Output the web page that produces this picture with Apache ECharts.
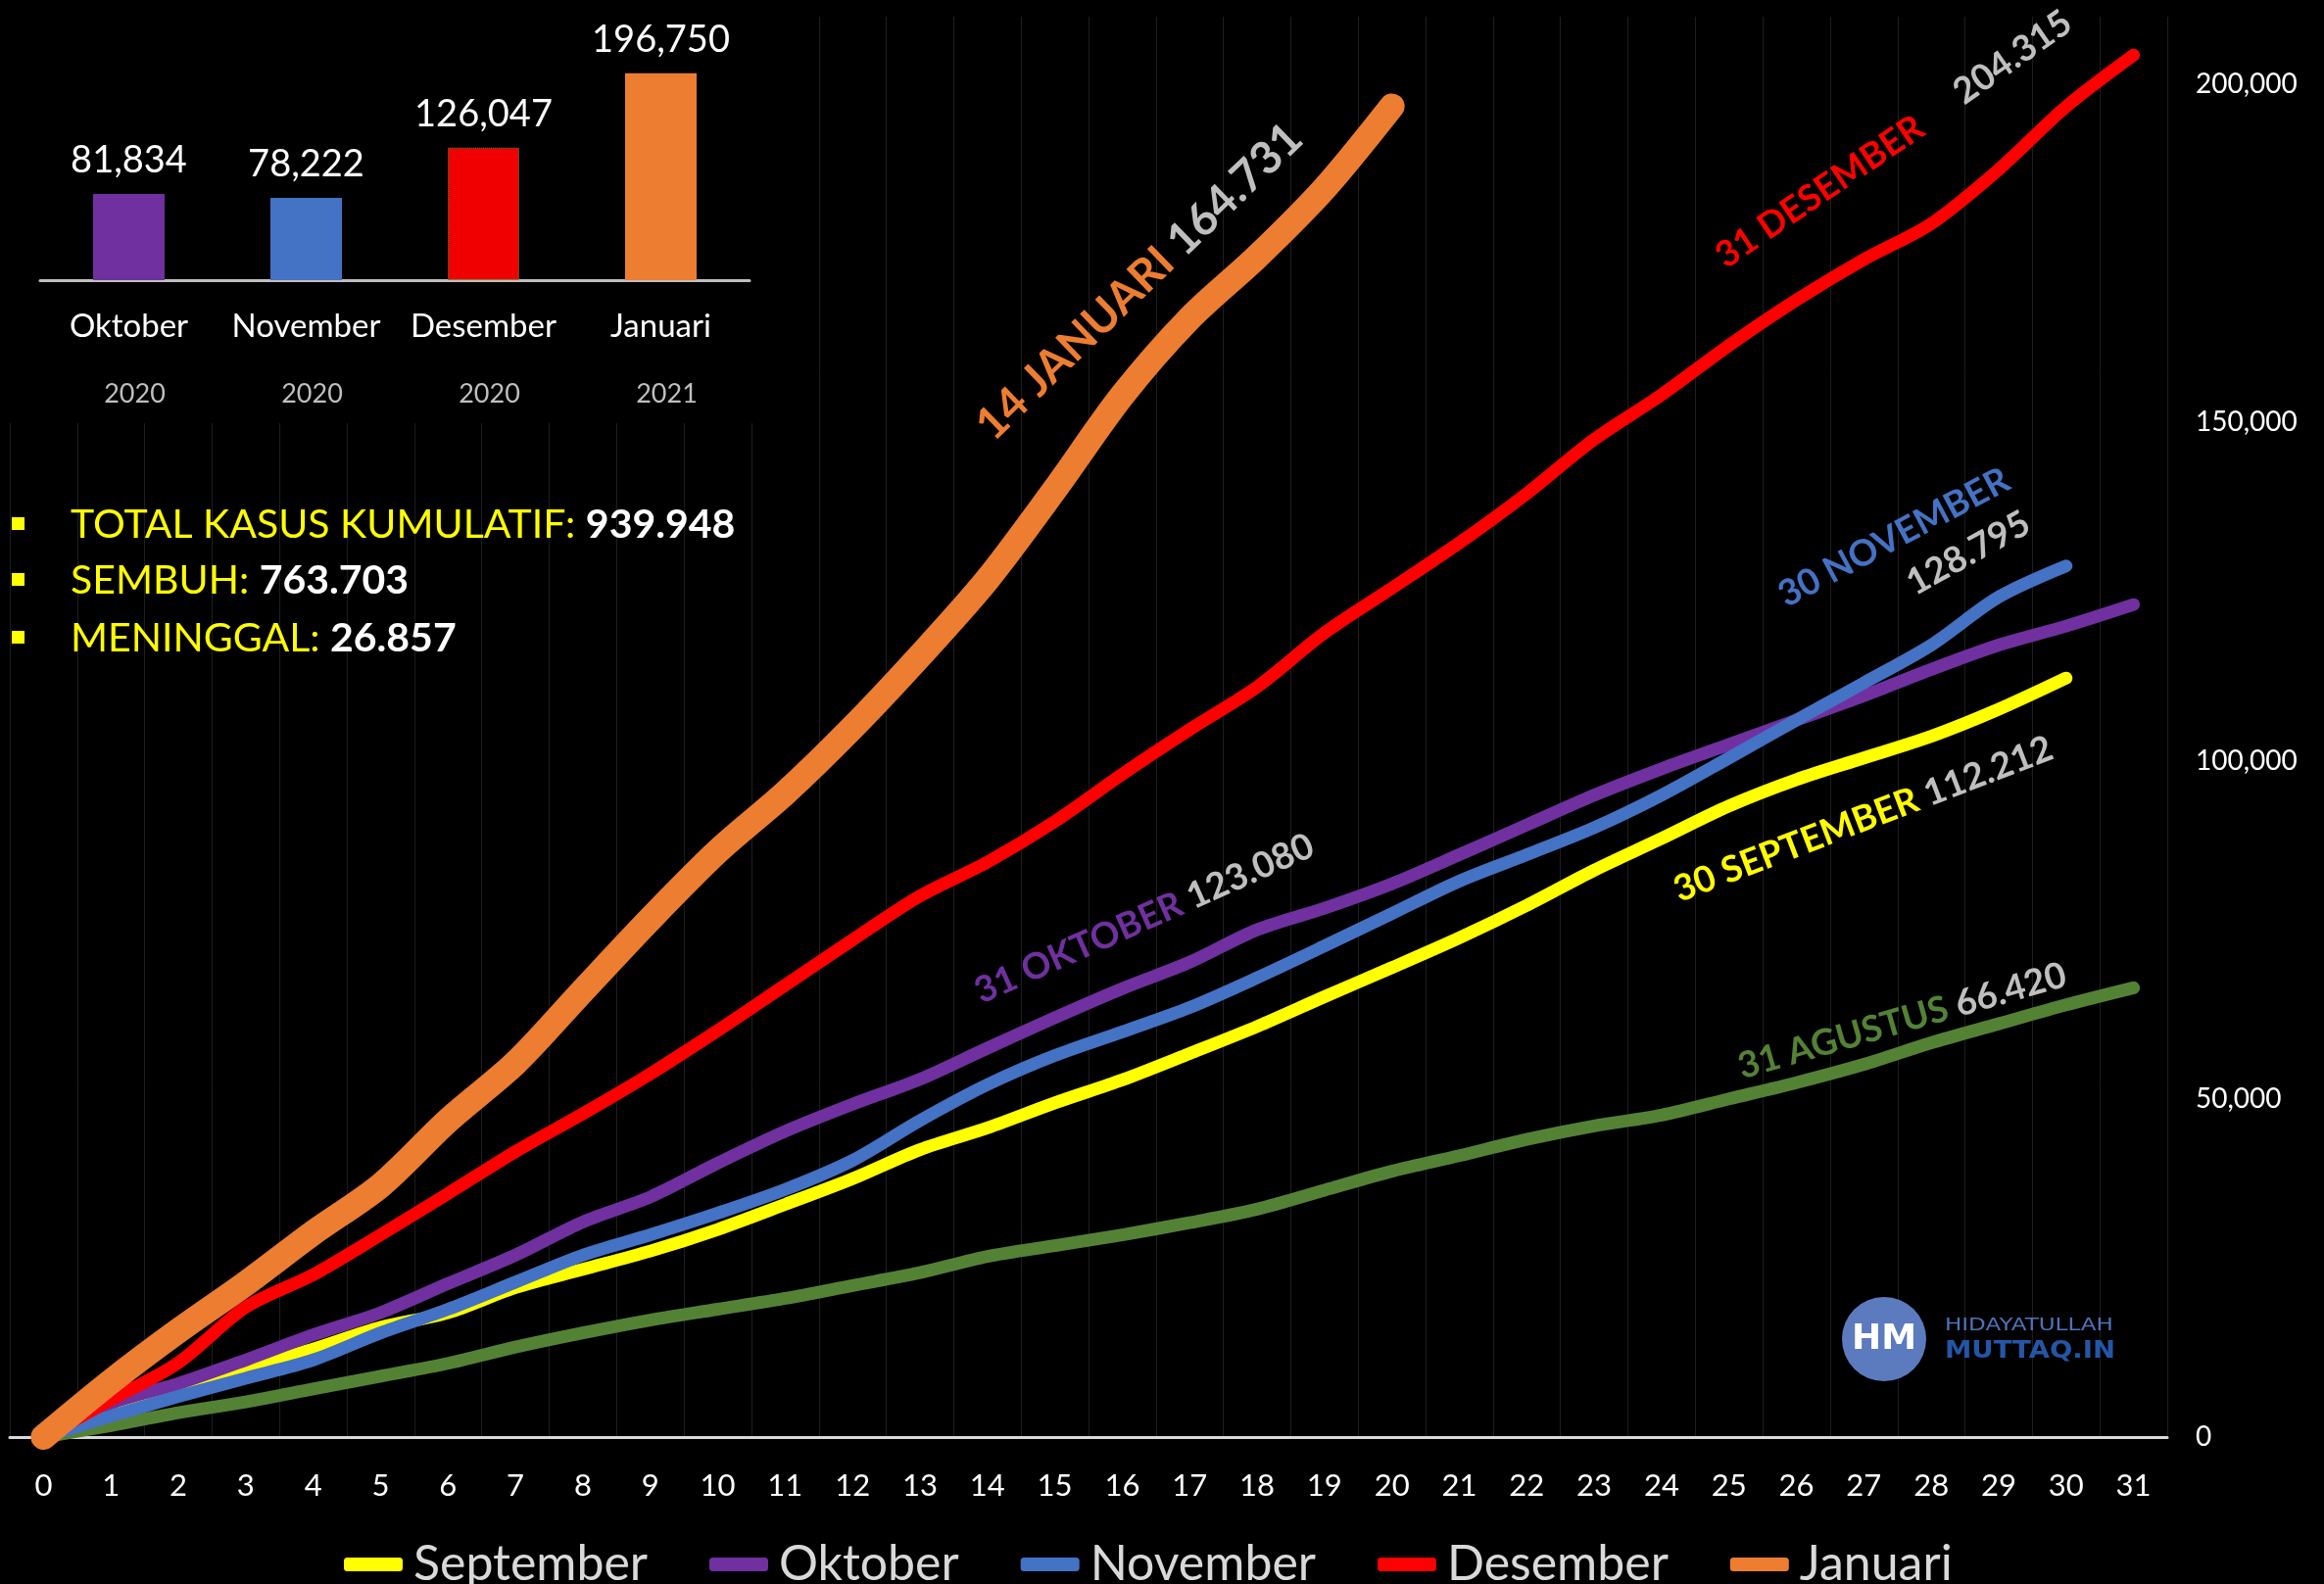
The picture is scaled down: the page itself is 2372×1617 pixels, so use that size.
<!DOCTYPE html>
<html>
<head>
<meta charset="utf-8">
<title>Kasus Kumulatif COVID-19 Indonesia</title>
<script src="https://cdn.jsdelivr.net/npm/echarts@6/dist/echarts.min.js"></script>
<style>
  html, body { margin: 0; padding: 0; background: #000; }
  #chart { width: 2372px; height: 1617px; }
</style>
</head>
<body>
<div id="chart"></div>
<script>
// day of month on the x axis
const days = ['0', '1', '2', '3', '4', '5', '6', '7', '8', '9', '10', '11', '12', '13', '14', '15',
    '16', '17', '18', '19', '20', '21', '22', '23', '24', '25', '26', '27', '28', '29', '30', '31'];

// cumulative cases per month
const agustus = [0, 1700, 3600, 5200, 7100, 9000, 10900, 13300, 15400, 17300, 18900, 20500, 22400, 24300,
    26700, 28300, 29900, 31700, 33700, 36500, 39300, 41600, 44000, 46000, 47600, 50000, 52400, 55100,
    58300, 61100, 63900, 66420];
const september = [0, 3800, 7100, 10100, 13000, 16200, 18400, 22100, 24800, 27500, 30700, 34400, 38200,
    42500, 45700, 49400, 52800, 56700, 60700, 65100, 69400, 73800, 78600, 83800, 88500, 93300, 97200,
    100400, 103600, 107600, 112212];
const oktober = [0, 5000, 7900, 11400, 15100, 18400, 22700, 26900, 31800, 35500, 40500, 45200, 49200,
    52900, 57500, 62000, 66300, 70200, 75000, 78200, 81800, 86100, 90500, 94900, 98800, 102400, 106000,
    109600, 113500, 117100, 119900, 123080];
const november = [0, 3100, 6000, 8700, 11400, 15400, 18900, 22900, 26900, 29900, 33100, 36600, 40900,
    46800, 52100, 56400, 59900, 63500, 67900, 72600, 77400, 82200, 86100, 90100, 94900, 100400, 106000,
    111500, 117100, 124200, 128795];
const desember = [0, 5500, 11000, 19200, 24000, 29900, 36000, 42200, 47800, 53700, 60100, 66800, 73500,
    80000, 85000, 91000, 98000, 104600, 110900, 118900, 125500, 132200, 139500, 147500, 154100, 161400,
    168100, 174100, 179400, 187400, 196700, 204315];
const januari = [0, 8200, 15700, 22700, 30200, 37200, 46800, 55300, 66000, 76600, 86600, 95200, 104900,
    115500, 126800, 140100, 154000, 165400, 174500, 184600, 196750];

// monthly totals for the small bar chart
const barMonths = ['Oktober', 'November', 'Desember', 'Januari'];
const barYears = ['2020', '2020', '2020', '2021'];
const barValues = [81834, 78222, 126047, 196750];
const barColors = ['#7030a0', '#4472c4', '#f00000', '#ed7d31'];

const legendNames = ['September', 'Oktober', 'November', 'Desember', 'Januari'];

const FONT = 'Lato';

function fmt(v) {
    return Number(v).toLocaleString('en-US');
}

function lineSeries(name, data, color, width) {
    return {
        name: name,
        type: 'line',
        data: data,
        smooth: 0.3,
        symbol: 'none',
        xAxisIndex: 0,
        yAxisIndex: 0,
        lineStyle: { color: color, width: width, cap: 'round', join: 'round' },
        itemStyle: { color: color }
    };
}

// rotated notes next to the line ends
const notes = [
    { x: 1004, y: 441, angle: 44, size: 46, label: '14 JANUARI', color: '#ed7d31', value: '164.731' },
    { x: 1755, y: 265, angle: 34, size: 37, label: '31 DESEMBER', color: '#ff0000' },
    { x: 1998, y: 98, angle: 35, size: 37, value: '204.315' },
    { x: 1818, y: 610, angle: 28, size: 37, label: '30 NOVEMBER', color: '#4472c4' },
    { x: 1949, y: 598, angle: 29, size: 37, value: '128.795' },
    { x: 997, y: 1014, angle: 24, size: 37, label: '31 OKTOBER', color: '#7030a0', value: '123.080' },
    { x: 1710, y: 910, angle: 21, size: 37, label: '30 SEPTEMBER', color: '#ffff00', value: '112.212' },
    { x: 1775, y: 1090, angle: 16, size: 37, label: '31 AGUSTUS', color: '#548235', value: '66.420' }
];

function noteElement(n) {
    const parts = [];
    if (n.label) parts.push('{c|' + n.label + '}');
    if (n.value) parts.push('{v|' + n.value + '}');
    const base = { fontSize: n.size, fontWeight: 'bold', fontFamily: FONT };
    return {
        type: 'text',
        x: n.x,
        y: n.y,
        rotation: n.angle * Math.PI / 180,
        z: 20,
        style: {
            text: parts.join(' '),
            font: 'bold ' + n.size + 'px ' + FONT,
            align: 'left', textAlign: 'left',
            verticalAlign: 'middle', textVerticalAlign: 'middle',
            rich: {
                c: Object.assign({ fill: n.color }, base),
                v: Object.assign({ fill: '#bfbfbf' }, base)
            }
        }
    };
}

// summary lines at the left
const stats = [
    { y: 536, label: 'TOTAL KASUS KUMULATIF: ', value: '939.948' },
    { y: 593, label: 'SEMBUH: ', value: '763.703' },
    { y: 652, label: 'MENINGGAL: ', value: '26.857' }
];

function statElements() {
    const els = [];
    stats.forEach(function (s) {
        els.push({
            type: 'rect', z: 20,
            shape: { x: 12, y: s.y - 8, width: 13, height: 13 },
            style: { fill: '#ffff00' }
        });
        els.push({
            type: 'text', x: 72, y: s.y, z: 20,
            style: {
                text: '{y|' + s.label + '}{w|' + s.value + '}',
                font: '41px ' + FONT,
                align: 'left', textAlign: 'left',
                verticalAlign: 'middle', textVerticalAlign: 'middle',
                rich: {
                    y: { fill: '#ffff00', fontSize: 41, fontFamily: FONT },
                    w: { fill: '#ffffff', fontSize: 41, fontFamily: FONT, fontWeight: 'bold' }
                }
            }
        });
    });
    return els;
}

function logoElements() {
    return [
        { type: 'circle', z: 20, shape: { cx: 1923, cy: 1367, r: 43 }, style: { fill: '#5b7bbe' } },
        {
            type: 'text', x: 1923, y: 1368, z: 21,
            style: {
                text: 'HM', fill: '#ffffff', font: 'bold 36px "DejaVu Sans"',
                align: 'center', textAlign: 'center', verticalAlign: 'middle', textVerticalAlign: 'middle'
            }
        },
        {
            type: 'text', x: 1985, y: 1353, z: 21, scaleX: 1.28,
            style: {
                text: 'HIDAYATULLAH', fill: '#4f72b8', font: '18px "DejaVu Sans"',
                align: 'left', textAlign: 'left', verticalAlign: 'middle', textVerticalAlign: 'middle'
            }
        },
        {
            type: 'text', x: 1985, y: 1379, z: 21, scaleX: 1.1,
            style: {
                text: 'MUTTAQ.IN', fill: '#2456a6', font: 'bold 25px "DejaVu Sans"',
                align: 'left', textAlign: 'left', verticalAlign: 'middle', textVerticalAlign: 'middle'
            }
        }
    ];
}

const chart = echarts.init(document.getElementById('chart'));

const options = {
    backgroundColor: '#000000',
    animation: false,
    textStyle: { fontFamily: FONT },
    legend: {
        data: legendNames,
        top: 1572,
        left: 351,
        padding: 0,
        icon: 'roundRect',
        itemWidth: 60,
        itemHeight: 14,
        itemGap: 63,
        textStyle: { color: '#d9d9d9', fontSize: 50, fontFamily: FONT, padding: [0, 0, 0, 6] }
    },
    grid: [
        { left: 10, right: 160, top: 17, bottom: 150 },
        { left: 41, top: 39, width: 724, height: 247 }
    ],
    xAxis: [
        {
            gridIndex: 0,
            type: 'category',
            data: days,
            boundaryGap: true,
            axisLine: { lineStyle: { color: '#d9d9d9', width: 3 } },
            axisTick: { inside: true, length: 11, lineStyle: { color: '#d9d9d9', width: 2 } },
            axisLabel: { color: '#ffffff', fontSize: 31, margin: 34, fontFamily: FONT },
            splitLine: { show: true, lineStyle: { color: '#1e1e1e', width: 1 } }
        },
        {
            gridIndex: 1,
            type: 'category',
            data: barMonths,
            z: 5,
            axisLine: { lineStyle: { color: '#bfbfbf', width: 3 } },
            axisTick: { show: false },
            axisLabel: {
                interval: 0,
                color: '#ffffff', fontSize: 33, margin: 12, fontFamily: FONT, lineHeight: 70,
                formatter: function (v, i) {
                    return v + '\n{y|' + barYears[i] + '}';
                },
                rich: { y: { color: '#bfbfbf', fontSize: 27, lineHeight: 68, fontFamily: FONT, padding: [0, 0, 0, 12] } }
            }
        }
    ],
    yAxis: [
        {
            gridIndex: 0,
            type: 'value',
            position: 'right',
            min: 0,
            max: 210000,
            interval: 50000,
            axisLine: { show: false },
            axisTick: { show: false },
            splitLine: { show: false },
            axisLabel: {
                color: '#ffffff', fontSize: 28, margin: 29, fontFamily: FONT,
                showMaxLabel: false, formatter: fmt
            }
        },
        {
            gridIndex: 1,
            type: 'value',
            min: 0,
            max: 230000,
            show: false
        }
    ],
    series: [
        lineSeries('Agustus', agustus, '#548235', 13),
        lineSeries('September', september, '#ffff00', 13),
        lineSeries('Oktober', oktober, '#7030a0', 13),
        lineSeries('November', november, '#4472c4', 13),
        lineSeries('Desember', desember, '#ff0000', 13),
        lineSeries('Januari', januari, '#ed7d31', 26),
        {
            name: 'Total bulanan',
            type: 'bar',
            xAxisIndex: 1,
            yAxisIndex: 1,
            barWidth: 73,
            z: 6,
            data: barValues.map(function (v, i) {
                const item = { value: v, itemStyle: { color: barColors[i] } };
                if (barMonths[i] === 'Desember') {
                    item.itemStyle.borderColor = '#3a9a3a';
                    item.itemStyle.borderType = 'dotted';
                    item.itemStyle.borderWidth = 1;
                }
                return item;
            }),
            label: {
                show: true,
                position: 'top',
                distance: 15,
                color: '#ffffff',
                fontSize: 38,
                fontFamily: FONT,
                formatter: function (p) { return fmt(p.value); }
            }
        }
    ],
    graphic: [
        // black panel behind the bar chart hides the day grid lines there
        { type: 'rect', z: 1, shape: { x: 0, y: 0, width: 800, height: 432 }, style: { fill: '#000000' } }
    ].concat(statElements(), notes.map(noteElement), logoElements())
};

chart.setOption(options);
</script>
</body>
</html>
